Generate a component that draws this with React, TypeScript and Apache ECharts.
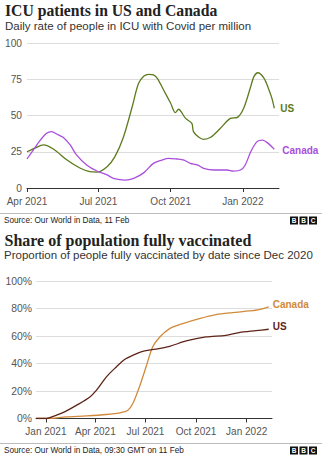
import React, { useEffect, useRef } from "react";
import * as echarts from "echarts";

// ---- ICU chart data ----
const icuUsDates = ["2021-04-01","2021-04-11","2021-04-22","2021-05-05","2021-05-22","2021-06-08","2021-06-20","2021-06-29","2021-07-12","2021-07-22","2021-08-02","2021-08-13","2021-08-21","2021-08-28","2021-09-03","2021-09-09","2021-09-14","2021-09-22","2021-10-01","2021-10-07","2021-10-11","2021-10-20","2021-10-28","2021-10-30","2021-11-06","2021-11-12","2021-11-21","2021-12-03","2021-12-16","2021-12-25","2022-01-02","2022-01-11","2022-01-15","2022-01-20","2022-01-28","2022-02-03","2022-02-07","2022-02-10"];
const icuUsValues = [25,27.5,29.7,26.7,19.3,13.6,11.3,11,14.7,21.6,35.4,56,72,77.2,78.4,78,75.6,67.6,58.4,52,54.3,48,44.6,38.9,35,33.6,35,41,48,48.7,55,70,76.8,79.5,75.6,68,61.8,55];
const icuCaDates = ["2021-04-01","2021-04-09","2021-04-18","2021-04-26","2021-05-02","2021-05-11","2021-05-17","2021-05-26","2021-06-03","2021-06-16","2021-06-29","2021-07-12","2021-07-20","2021-08-04","2021-08-15","2021-08-28","2021-09-09","2021-09-20","2021-09-28","2021-10-09","2021-10-18","2021-10-26","2021-11-04","2021-11-12","2021-11-25","2021-12-12","2021-12-20","2021-12-29","2022-01-04","2022-01-11","2022-01-19","2022-01-26","2022-02-01","2022-02-10"];
const icuCaValues = [20,26.2,33,37.7,38.9,36.6,35,29.7,22.8,15.9,11.7,9,6.7,5.5,6.7,10.6,17,19.3,20.5,20,19.3,17,15.9,13.6,12.4,12.4,11.7,12.4,15.9,25,32,33,31.3,26.7];
const icuTickDates = ["2021-04-01","2021-07-01","2021-10-01","2022-01-01"];
const icuTickLabels = ["Apr 2021","Jul 2021","Oct 2021","Jan 2022"];

// ---- Vaccination chart data ----
const vacUsDates = ["2020-12-14","2021-01-02","2021-01-17","2021-02-04","2021-02-26","2021-03-22","2021-04-03","2021-04-21","2021-05-09","2021-05-24","2021-06-08","2021-06-26","2021-07-20","2021-08-14","2021-09-13","2021-10-19","2021-11-24","2021-12-18","2022-01-18","2022-02-10"];
const vacUsValues = [0,0,1.9,4.8,9.7,15.7,20.6,30.3,37.5,42.9,46,48.9,50.4,52.5,56.4,59.3,60.5,62.5,63.9,64.9];
const vacCaDates = ["2020-12-14","2021-01-02","2021-02-07","2021-03-16","2021-04-21","2021-05-15","2021-05-30","2021-06-08","2021-06-20","2021-07-02","2021-07-14","2021-07-27","2021-08-14","2021-09-07","2021-10-07","2021-11-06","2021-12-06","2022-01-06","2022-01-24","2022-02-10"];
const vacCaValues = [0,0,1.2,1.9,2.9,4.1,6,10.9,23,37.5,52,59.3,65.4,69,72.6,75.5,77,78.2,79.2,81.1];
const vacTickDates = ["2021-01-01","2021-04-01","2021-07-01","2021-10-01","2022-01-01"];
const vacTickLabels = ["Jan 2021","Apr 2021","Jul 2021","Oct 2021","Jan 2022"];

const ts = (s: string) => Date.parse(s + "T00:00:00Z");
const pairs = (d: string[], v: number[]) => d.map((x, i) => [ts(x), v[i]]);

const SANS = "Liberation Sans, Arial, sans-serif";
const SERIF = "Liberation Serif, serif";

const C_US1 = "#5d7a1c";
const C_CA1 = "#a94fdc";
const C_CA2 = "#d08a3a";
const C_US2 = "#5e2418";

function bbcLogo(x: number, y: number) {
  const els: any[] = [];
  ["B", "B", "C"].forEach((ch, i) => {
    els.push({ type: "rect", shape: { x: x + i * 9.5, y, width: 8, height: 8 }, style: { fill: "#111" } });
    els.push({ type: "text", x: x + i * 9.5 + 4, y: y + 4.3, style: { text: ch, fill: "#fff", font: `bold 6.5px ${SANS}`, align: "center", verticalAlign: "middle" } });
  });
  return els;
}

function makeXAxis(grid: number, min: string, max: string, ticks: string[], labels: string[]) {
  const tv = ticks.map(ts);
  return {
    type: "value",
    gridIndex: grid,
    min: ts(min),
    max: ts(max),
    splitLine: { show: false },
    axisLine: { lineStyle: { color: "#333", width: 1 } },
    axisTick: { show: true, customValues: tv, length: 4, lineStyle: { color: "#333" } },
    axisLabel: {
      customValues: tv,
      color: "#555",
      fontSize: 10,
      fontFamily: SANS,
      margin: 8,
      hideOverlap: false,
      showMinLabel: true,
      showMaxLabel: true,
      formatter: (val: number) => {
        const i = tv.findIndex((t) => Math.abs(t - val) < 86400000);
        return i >= 0 ? labels[i] : "";
      },
    },
  };
}

export default function App() {
  const ref = useRef<HTMLDivElement>(null);
  useEffect(() => {
    if (!ref.current) return;
    const chart = echarts.init(ref.current, undefined, { renderer: "svg" });
    const option: any = {
      animation: false,
      backgroundColor: "#fff",
      grid: [
        { left: 27, top: 43, width: 252, height: 145 },
        { left: 36, top: 281, width: 236, height: 137.5 },
      ],
      xAxis: [
        makeXAxis(0, "2021-04-01", "2022-02-16", icuTickDates, icuTickLabels),
        makeXAxis(1, "2020-12-14", "2022-02-16", vacTickDates, vacTickLabels),
      ],
      yAxis: [
        {
          type: "value", gridIndex: 0, min: 0, max: 100, interval: 25,
          axisLine: { show: false }, axisTick: { show: false },
          splitLine: { lineStyle: { color: "#ddd" } },
          axisLabel: { color: "#555", fontSize: 10.2, fontFamily: SANS, margin: 5 },
        },
        {
          type: "value", gridIndex: 1, min: 0, max: 100, interval: 20,
          axisLine: { show: false }, axisTick: { show: false },
          splitLine: { lineStyle: { color: "#ddd" } },
          axisLabel: { color: "#555", fontSize: 10.4, fontFamily: SANS, margin: 4, formatter: "{value}%" },
        },
      ],
      series: [
        {
          name: "US", type: "line", xAxisIndex: 0, yAxisIndex: 0, data: pairs(icuUsDates, icuUsValues),
          showSymbol: false, smooth: 0.3, lineStyle: { color: C_US1, width: 1.3 }, itemStyle: { color: C_US1 },
          endLabel: { show: true, formatter: "US", color: C_US1, fontWeight: "bold", fontSize: 10, fontFamily: SANS, distance: 6 },
        },
        {
          name: "Canada", type: "line", xAxisIndex: 0, yAxisIndex: 0, data: pairs(icuCaDates, icuCaValues),
          showSymbol: false, smooth: 0.3, lineStyle: { color: C_CA1, width: 1.3 }, itemStyle: { color: C_CA1 },
          endLabel: { show: true, formatter: "Canada", color: C_CA1, fontWeight: "bold", fontSize: 10, fontFamily: SANS, distance: 8, offset: [0, 1] },
        },
        {
          name: "Canada", type: "line", xAxisIndex: 1, yAxisIndex: 1, data: pairs(vacCaDates, vacCaValues),
          showSymbol: false, smooth: 0.3, lineStyle: { color: C_CA2, width: 1.3 }, itemStyle: { color: C_CA2 },
          endLabel: { show: true, formatter: "Canada", color: C_CA2, fontWeight: "bold", fontSize: 10, fontFamily: SANS, distance: 4, offset: [0, -2.5] },
        },
        {
          name: "US", type: "line", xAxisIndex: 1, yAxisIndex: 1, data: pairs(vacUsDates, vacUsValues),
          showSymbol: false, smooth: 0.3, lineStyle: { color: C_US2, width: 1.3 }, itemStyle: { color: C_US2 },
          endLabel: { show: true, formatter: "US", color: C_US2, fontWeight: "bold", fontSize: 10, fontFamily: SANS, distance: 4, offset: [0, -3] },
        },
      ],
      graphic: [
        { type: "text", left: 5, top: 2.5, style: { text: "ICU patients in US and Canada", fill: "#222", font: `bold 15.7px ${SERIF}` } },
        { type: "text", left: 5, top: 19.5, style: { text: "Daily rate of people in ICU with Covid per million", fill: "#333", font: `11.5px ${SANS}` } },
        { type: "line", shape: { x1: 0, y1: 213.5, x2: 322, y2: 213.5 }, style: { stroke: "#bbb", lineWidth: 1 } },
        { type: "text", left: 4, top: 216, style: { text: "Source: Our World in Data, 11 Feb", fill: "#222", font: `8.2px ${SANS}` } },
        ...bbcLogo(290, 216.5),
        { type: "text", left: 4.5, top: 232.5, style: { text: "Share of population fully vaccinated", fill: "#222", font: `bold 16px ${SERIF}` } },
        { type: "text", left: 4, top: 249, style: { text: "Proportion of people fully vaccinated by date since Dec 2020", fill: "#333", font: `11.5px ${SANS}` } },
        { type: "line", shape: { x1: 0, y1: 443.5, x2: 322, y2: 443.5 }, style: { stroke: "#bbb", lineWidth: 1 } },
        { type: "text", left: 4, top: 446, style: { text: "Source: Our World in Data, 09:30 GMT on 11 Feb", fill: "#222", font: `8.2px ${SANS}` } },
        ...bbcLogo(290, 446.5),
      ],
    };
    chart.setOption(option);
    return () => chart.dispose();
  }, []);
  return <div ref={ref} style={{ position: "fixed", left: 0, top: 0, width: 322, height: 460 }} />;
}
